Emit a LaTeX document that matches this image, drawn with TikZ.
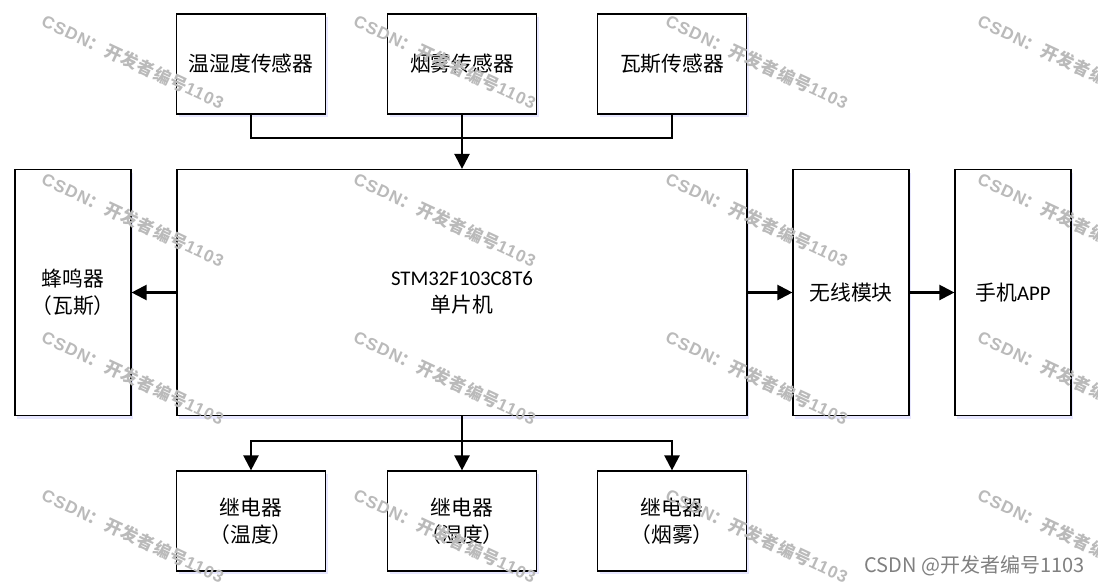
\documentclass[tikz,border=0pt]{standalone}
\usepackage{fontspec}
\setmainfont{Carlito}
\newfontfamily\cjk{Noto Sans CJK SC}
\newfontfamily\wmfont[LetterSpace=6]{Noto Sans CJK SC}
\newfontfamily\wmlat[LetterSpace=6]{Liberation Sans}
\usetikzlibrary{arrows.meta,shadows}
\tikzset{
  blk/.style={draw=black, line width=1.2pt, fill=white, inner sep=0pt, align=center,
    font=\fontsize{20.8}{27}\selectfont,
    drop shadow={shadow xshift=2pt, shadow yshift=-3pt, fill=blue!30, opacity=0.3}},
  conn/.style={line width=2.3pt},
  arr/.style={line width=2.3pt, -{Triangle[length=15pt,width=15pt]}},
  wm/.style={text=black!27, rotate=-25, inner sep=0pt,
    font=\bfseries\fontsize{17}{17}\selectfont},
}
\begin{document}
\begin{tikzpicture}[x=1pt,y=-1pt]
\clip (0,0) rectangle (1098,584);
\fill[white] (0,0) rectangle (1098,584);
% blocks
\node[blk, minimum width=149pt, minimum height=100pt] (s1) at (251,64) {\cjk 温湿度传感器};
\node[blk, minimum width=149pt, minimum height=100pt] (s2) at (462,64) {\cjk 烟雾传感器};
\node[blk, minimum width=149pt, minimum height=100pt] (s3) at (672,64) {\cjk 瓦斯传感器};
\node[blk, minimum width=570pt, minimum height=246pt] (mcu) at (462,292.5) {STM32F103C8T6\\{\cjk 单片机}};
\node[blk, minimum width=116pt, minimum height=246pt] (bz) at (73,292.5) {{\cjk 蜂鸣器}\\{\cjk （瓦斯）}};
\node[blk, minimum width=116pt, minimum height=246pt] (wl) at (851,292.5) {\cjk 无线模块};
\node[blk, minimum width=116pt, minimum height=246pt] (app) at (1013,292.5) {{\cjk 手机}APP};
\node[blk, minimum width=149pt, minimum height=100pt] (r1) at (251,521) {{\cjk 继电器}\\{\cjk （温度）}};
\node[blk, minimum width=149pt, minimum height=100pt] (r2) at (462,521) {{\cjk 继电器}\\{\cjk （湿度）}};
\node[blk, minimum width=149pt, minimum height=100pt] (r3) at (672,521) {{\cjk 继电器}\\{\cjk （烟雾）}};
% bus coordinates
\coordinate (tb) at (462,138);
\coordinate (bb) at (462,441);
% top bus
\draw[conn] (s1.south) |- (tb) -| (s3.south);
\draw[conn] (s2.south) -- (tb);
\draw[arr] (tb) -- (mcu.north);
% bottom bus
\draw[conn] (mcu.south) -- (bb);
\draw[arr] (bb) -| (r1.north);
\draw[arr] (bb) -- (r2.north);
\draw[arr] (bb) -| (r3.north);
% side arrows
\draw[arr] (mcu.west) -- (bz.east);
\draw[arr] (mcu.east) -- (wl.west);
\draw[arr] (wl.east) -- (app.west);
% watermarks
\foreach \i in {0,1,2,3}{
  \foreach \j in {0,1,2,3}{
    \node[wm] (wm\i\j) at ({133+312*\i},{62+158*\j}) {{\wmlat CSDN}{\wmfont ：开发者编号}{\wmlat 1103}};
  }
}
\node[anchor=east, text=black!50, inner sep=0pt, font=\cjk\fontsize{20}{20}\selectfont] (csdn) at (1085,566) {CSDN @开发者编号1103};
\end{tikzpicture}
\end{document}
